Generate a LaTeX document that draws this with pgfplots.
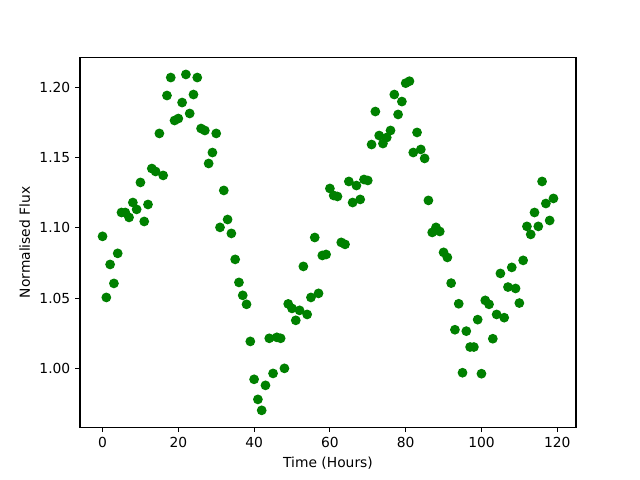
\documentclass[border=0pt]{standalone}
\usepackage{fontspec}
\setmainfont{DejaVu Sans}
\usepackage{pgfplots}
\pgfplotsset{compat=1.18}
\definecolor{mplgreen}{RGB}{0,128,0}
\begin{document}
\begin{tikzpicture}
\path[use as bounding box] (0,0) rectangle (6.4in,4.8in);
\begin{axis}[
  at={(0.8in,0.528in)}, anchor=south west,
  scale only axis, width=4.96in, height=3.696in,
  xmin=-5.95, xmax=124.95, ymin=0.9581, ymax=1.2213,
  xtick={0,20,...,120},
  ytick={1.00,1.05,1.10,1.15,1.20},
  scaled y ticks=false,
  yticklabel style={/pgf/number format/.cd, fixed, fixed zerofill, precision=2},
  /pgf/number format/assume math mode=true,
  tick align=outside, tick pos=left,
  major tick length=3.5pt,
  every tick/.style={line width=0.8pt, black},
  axis line style={line width=0.8pt},
  tick label style={font=\fontsize{10}{12}\selectfont},
  label style={font=\fontsize{10}{12}\selectfont},
  xlabel={Time (Hours)},
  ylabel={Normalised Flux},
]
\addplot[only marks, mark=*, mark size=3pt, color=mplgreen, line width=1pt] table[row sep=\\] {
x y\\
0 1.0940\\
1 1.0505\\
2 1.0740\\
3 1.0605\\
4 1.0819\\
5 1.1110\\
6 1.1110\\
7 1.1075\\
8 1.1181\\
9 1.1132\\
10 1.1324\\
11 1.1046\\
12 1.1167\\
13 1.1423\\
14 1.1402\\
15 1.1673\\
16 1.1374\\
17 1.1943\\
18 1.2071\\
19 1.1765\\
20 1.1779\\
21 1.1893\\
22 1.2093\\
23 1.1815\\
24 1.1950\\
25 1.2071\\
26 1.1708\\
27 1.1694\\
28 1.1459\\
29 1.1537\\
30 1.1673\\
31 1.1004\\
32 1.1267\\
33 1.1060\\
34 1.0961\\
35 1.0776\\
36 1.0612\\
37 1.0520\\
38 1.0456\\
39 1.0192\\
40 0.9922\\
41 0.9779\\
42 0.9701\\
43 0.9879\\
44 1.0214\\
45 0.9964\\
46 1.0221\\
47 1.0214\\
48 1.0000\\
49 1.0459\\
50 1.0427\\
51 1.0342\\
52 1.0413\\
53 1.0726\\
54 1.0384\\
55 1.0505\\
56 1.0932\\
57 1.0534\\
58 1.0804\\
59 1.0811\\
60 1.1281\\
61 1.1231\\
62 1.1224\\
63 1.0897\\
64 1.0883\\
65 1.1331\\
66 1.1181\\
67 1.1302\\
68 1.1203\\
69 1.1345\\
70 1.1338\\
71 1.1594\\
72 1.1829\\
73 1.1658\\
74 1.1601\\
75 1.1644\\
76 1.1694\\
77 1.1950\\
78 1.1808\\
79 1.1900\\
80 1.2031\\
81 1.2045\\
82 1.1537\\
83 1.1680\\
84 1.1559\\
85 1.1495\\
86 1.1196\\
87 1.0968\\
88 1.1004\\
89 1.0975\\
90 1.0826\\
91 1.0790\\
92 1.0607\\
93 1.0275\\
94 1.0460\\
95 0.9969\\
96 1.0265\\
97 1.0152\\
98 1.0152\\
99 1.0347\\
100 0.9962\\
101 1.0484\\
102 1.0456\\
103 1.0211\\
104 1.0384\\
105 1.0676\\
106 1.0361\\
107 1.0579\\
108 1.0719\\
109 1.0569\\
110 1.0465\\
111 1.0769\\
112 1.1011\\
113 1.0954\\
114 1.1110\\
115 1.1011\\
116 1.1331\\
117 1.1174\\
118 1.1053\\
119 1.1210\\
};
\end{axis}
\end{tikzpicture}
\end{document}
